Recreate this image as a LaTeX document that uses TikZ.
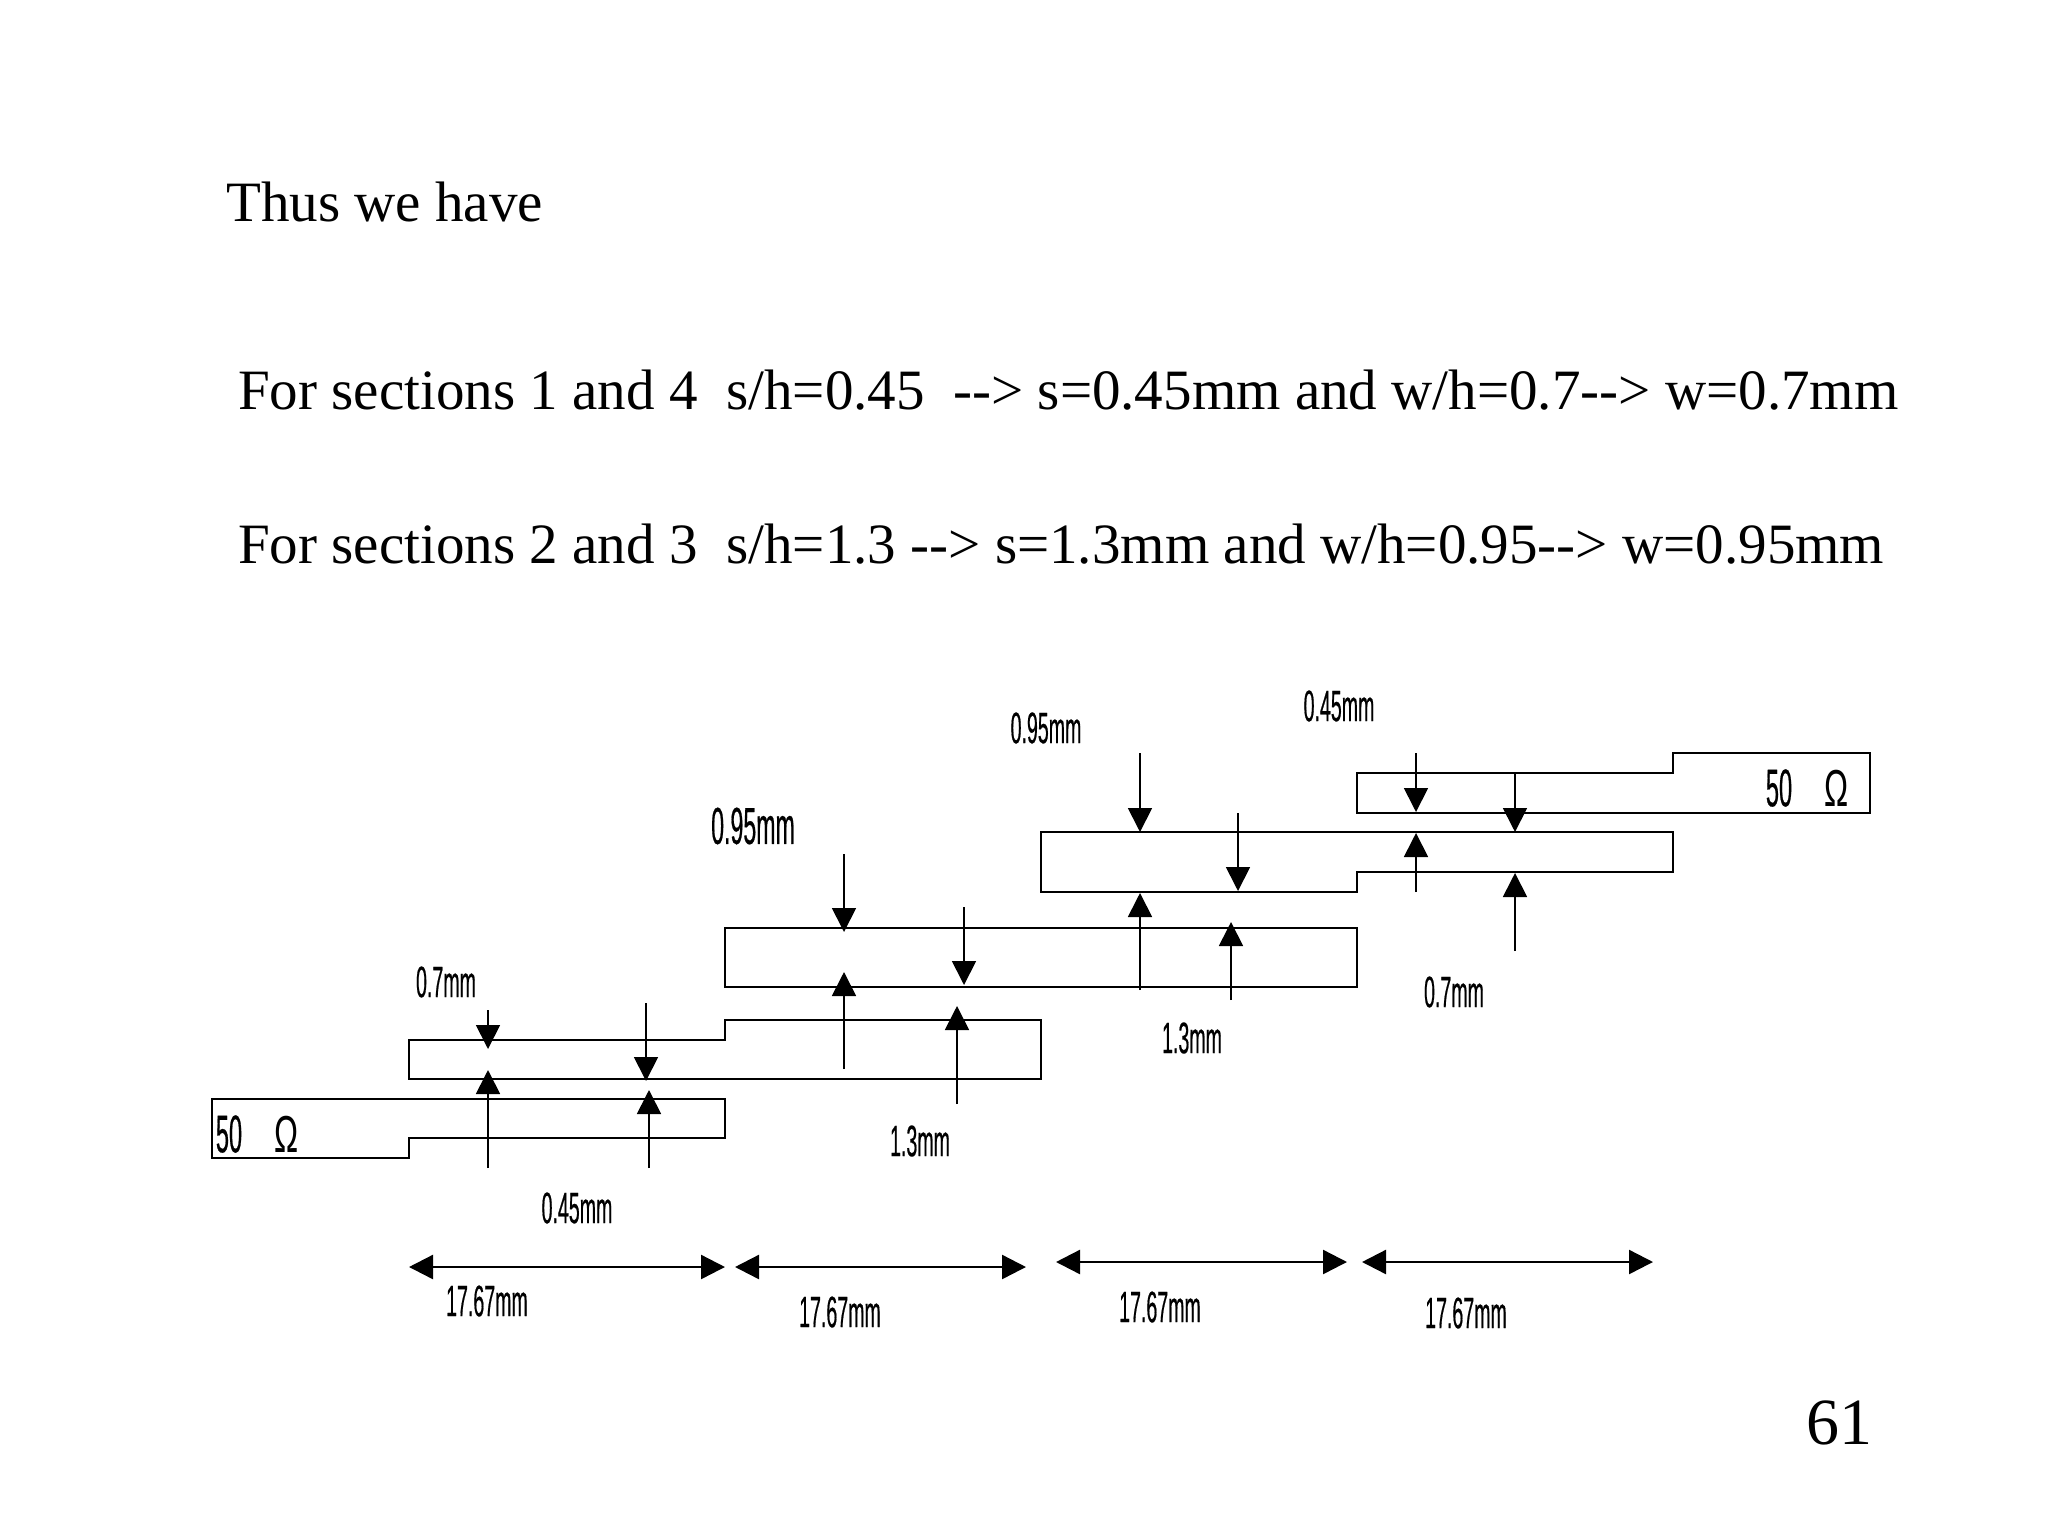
\documentclass[tikz,border=0pt]{standalone}
\usepackage{fontspec}
\setmainfont{Liberation Serif}
\newfontfamily\dimfont[FakeStretch=0.445,FakeBold=0.4]{Liberation Sans}
\newfontfamily\ohmfont[FakeStretch=0.62]{Liberation Sans}
\usetikzlibrary{arrows.meta}
\tikzset{
  slidetext/.style={anchor=base west, inner sep=0pt, font=\fontsize{57.05}{60}\selectfont},
  dimlabel/.style={inner sep=0pt, font=\dimfont\fontsize{44}{46}\selectfont},
  biglabel/.style={inner sep=0pt, font=\dimfont\fontsize{52}{54}\selectfont},
  portlabel/.style={inner sep=0pt, font=\dimfont\fontsize{53}{55}\selectfont},
  ohmlabel/.style={inner sep=0pt, font=\ohmfont\fontsize{52}{54}\selectfont},
  strip/.style={draw=black, line width=2pt, line join=miter},
  gaparrow/.style={draw=black, line width=1.8pt, -{Triangle[length=24pt,width=24pt]}},
  lenarrow/.style={draw=black, line width=2.4pt, {Triangle[length=24pt,width=24pt]}-{Triangle[length=24pt,width=24pt]}}
}
\begin{document}
\begin{tikzpicture}[x=1pt,y=-1pt]
\useasboundingbox[fill=white] (0,0) rectangle (2048,1536);

% draw the slide text
\node[slidetext] (thus) at (226,221) {Thus we have};
\node[slidetext] (first) at (238,409.5) {For sections 1 and 4\ \ s/h=0.45\ \ -{}-{}> s=0.45mm and w/h=0.7-{}-{}> w=0.7mm};
\node[slidetext] (second) at (238,563.5) {For sections 2 and 3\ \ s/h=1.3 -{}-{}> s=1.3mm and w/h=0.95-{}-{}> w=0.95mm};
\node[slidetext, font=\fontsize{66}{70}\selectfont] (page) at (1806,1444) {61};

% draw the five strips
\draw[strip] (212,1099) -- (725,1099) -- (725,1138) -- (409,1138) -- (409,1158) -- (212,1158) -- cycle;
\draw[strip] (409,1040) -- (725,1040) -- (725,1020) -- (1041,1020) -- (1041,1079) -- (409,1079) -- cycle;
\draw[strip] (725,928) -- (1357,928) -- (1357,987) -- (725,987) -- cycle;
\draw[strip] (1041,832) -- (1673,832) -- (1673,872) -- (1357,872) -- (1357,892) -- (1041,892) -- cycle;
\draw[strip] (1357,773) -- (1673,773) -- (1673,753) -- (1870,753) -- (1870,813) -- (1357,813) -- cycle;

% draw vertical arrows to mark the gaps and widths
\foreach \n/\x/\ya/\yb in {
  a/488/1010/1049, b/488/1168/1070, c/646/1003/1081, d/649/1168/1090,
  e/844/854/932, f/964/907/985, g/844/1069/972, h/957/1104/1006,
  i/1140/753/832, j/1238/813/891, k/1140/990/893, l/1231/1000/922,
  m/1416/753/812, n/1515/773/832, o/1416/892/833, p/1515/951/873}
{
  \coordinate (\n from) at (\x,\ya);
  \coordinate (\n to) at (\x,\yb);
  \draw[gaparrow] (\n from) -- (\n to);
}

% draw horizontal arrows to mark the section lengths
\foreach \n/\xa/\xb/\y in {q/409/725/1267, r/735/1026/1267, s/1056/1347/1262, t/1362/1653/1262}
{
  \coordinate (\n from) at (\xa,\y);
  \coordinate (\n to) at (\xb,\y);
  \draw[lenarrow] (\n from) -- (\n to);
}

% draw nodes to add sizes
\node[dimlabel] (wone) at (446,982) {0.7mm};
\node[dimlabel] (sone) at (577,1208) {0.45mm};
\node[dimlabel] (stwo) at (920,1141) {1.3mm};
\node[biglabel] (wtwo) at (753,826) {0.95mm};
\node[dimlabel] (wthree) at (1046,728) {0.95mm};
\node[dimlabel] (sthree) at (1192,1038) {1.3mm};
\node[dimlabel] (sfour) at (1339,706) {0.45mm};
\node[dimlabel] (wfour) at (1454,992) {0.7mm};

\node[dimlabel] (lenone) at (487,1301) {17.67mm};
\node[dimlabel] (lentwo) at (840,1312) {17.67mm};
\node[dimlabel] (lenthree) at (1160,1307) {17.67mm};
\node[dimlabel] (lenfour) at (1466,1313) {17.67mm};

% draw the port labels
\node[portlabel] (portl) at (229,1134) {50};
\node[ohmlabel] (ohml) at (287,1134) {\char"03A9};
\node[portlabel] (portr) at (1779,788) {50};
\node[ohmlabel] (ohmr) at (1837,788) {\char"03A9};
\end{tikzpicture}
\end{document}
